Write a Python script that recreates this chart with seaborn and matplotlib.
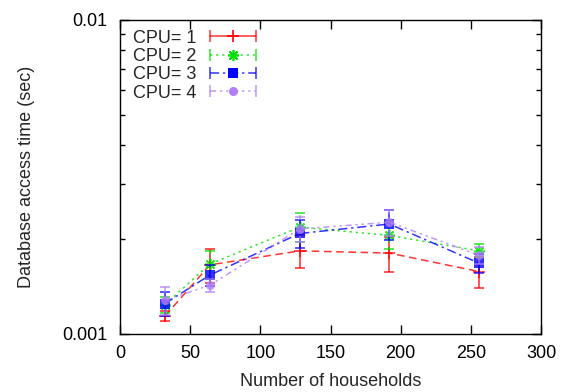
import numpy as np
import pandas as pd
import seaborn as sns
import matplotlib
matplotlib.use("Agg")
import matplotlib.pyplot as plt
from matplotlib.lines import Line2D
from matplotlib.legend_handler import HandlerLine2D
from matplotlib.ticker import FixedLocator, FixedFormatter, LogLocator, NullFormatter

households = [32, 64, 128, 192, 256]
labels = ["CPU= 1", "CPU= 2", "CPU= 3", "CPU= 4"]
times = [
    [0.00114, 0.00166, 0.00184, 0.00181, 0.00158],
    [0.00124, 0.00167, 0.00219, 0.00206, 0.00184],
    [0.00125, 0.00154, 0.00209, 0.00224, 0.00168],
    [0.00128, 0.00143, 0.00216, 0.00227, 0.00178],
]
errors = [
    [0.00004, 0.00021, 0.00022, 0.00023, 0.00018],
    [0.00007, 0.00017, 0.00023, 0.00020, 0.00010],
    [0.00011, 0.00012, 0.00021, 0.00025, 0.00012],
    [0.00013, 0.00007, 0.00020, 0.00022, 0.00011],
]

colors = ["#ff0000", "#00dd00", "#0000ff", "#b080f8"]
styles = [(0, (5, 3)), (0, (1.5, 2.5)), (0, (6, 2.5, 1.5, 2.5)), (0, (4, 2.5, 1.5, 2.5, 1.5, 2.5))]
markers = ["+", (8, 2, 0), "s", "o"]
msizes = [8, 8, 6.5, 6.5]

sns.set_style("ticks")
plt.rcParams["font.family"] = ["Liberation Sans", "DejaVu Sans"]
plt.rcParams["font.size"] = 13

fig = plt.figure(figsize=(5.65, 3.92), dpi=100)
ax = fig.add_axes([120 / 565, 1 - 334 / 392, 421 / 565, 314 / 392])

handles = []
hmap = {}
for i in range(4):
    df = pd.DataFrame({"x": households, "y": times[i]})
    sns.lineplot(data=df, x="x", y="y", ax=ax, color=colors[i], linestyle=styles[i],
                 linewidth=1.1, alpha=0.8, marker=markers[i], markersize=msizes[i],
                 markeredgewidth=1.2 if i < 2 else 0, markeredgecolor=colors[i],
                 errorbar=None, legend=False)
    eb = ax.errorbar(households, times[i], yerr=errors[i], fmt="none", ecolor=colors[i],
                     elinewidth=1.1, capsize=3.5, capthick=1.1, alpha=0.85)
    if i > 0:
        eb[2][0].set_linestyle(styles[i])

    lstyle = "-" if i == 0 else styles[i]
    cap = Line2D([], [], color=colors[i], linestyle=lstyle, linewidth=1.1, alpha=0.8,
                 marker="|", markersize=8, markeredgewidth=1.1)
    mk = Line2D([], [], color=colors[i], linestyle="none", marker=markers[i],
                markersize=msizes[i], markeredgewidth=1.2 if i < 2 else 0,
                markeredgecolor=colors[i])
    hmap[cap] = HandlerLine2D(numpoints=2)
    hmap[mk] = HandlerLine2D(numpoints=1)
    handles.append((cap, mk))

ax.set_yscale("log")
ax.set_xlim(0, 300)
ax.set_ylim(0.001, 0.01)
ax.set_xticks([0, 50, 100, 150, 200, 250, 300])
ax.yaxis.set_major_locator(FixedLocator([0.001, 0.01]))
ax.yaxis.set_major_formatter(FixedFormatter(["0.001", "0.01"]))
ax.yaxis.set_minor_locator(LogLocator(base=10, subs=np.arange(2, 10)))
ax.yaxis.set_minor_formatter(NullFormatter())

ax.tick_params(which="both", direction="in", top=True, right=True, width=1, colors="black")
ax.tick_params(which="major", length=6.5, labelsize=13)
ax.tick_params(which="minor", length=3.5)
ax.tick_params(axis="y", which="major", pad=9)
ax.tick_params(axis="x", which="major", pad=8)
for s in ax.spines.values():
    s.set_visible(True)
    s.set_linewidth(1)
    s.set_color("black")

ax.set_xlabel("Number of households", fontsize=13)
ax.set_ylabel("Database access time (sec)", fontsize=13)
ax.xaxis.set_label_coords(0.5, -0.124)
ax.yaxis.set_label_coords(-0.203, 0.5)

ax.legend(handles, labels, handler_map=hmap, loc="upper left", frameon=False,
          markerfirst=False, bbox_to_anchor=(0.03, 0.969), borderaxespad=0,
          borderpad=0, handlelength=3.2, handletextpad=0.45, labelspacing=0.07,
          fontsize=13)

fig.savefig("out.png", dpi=100)
